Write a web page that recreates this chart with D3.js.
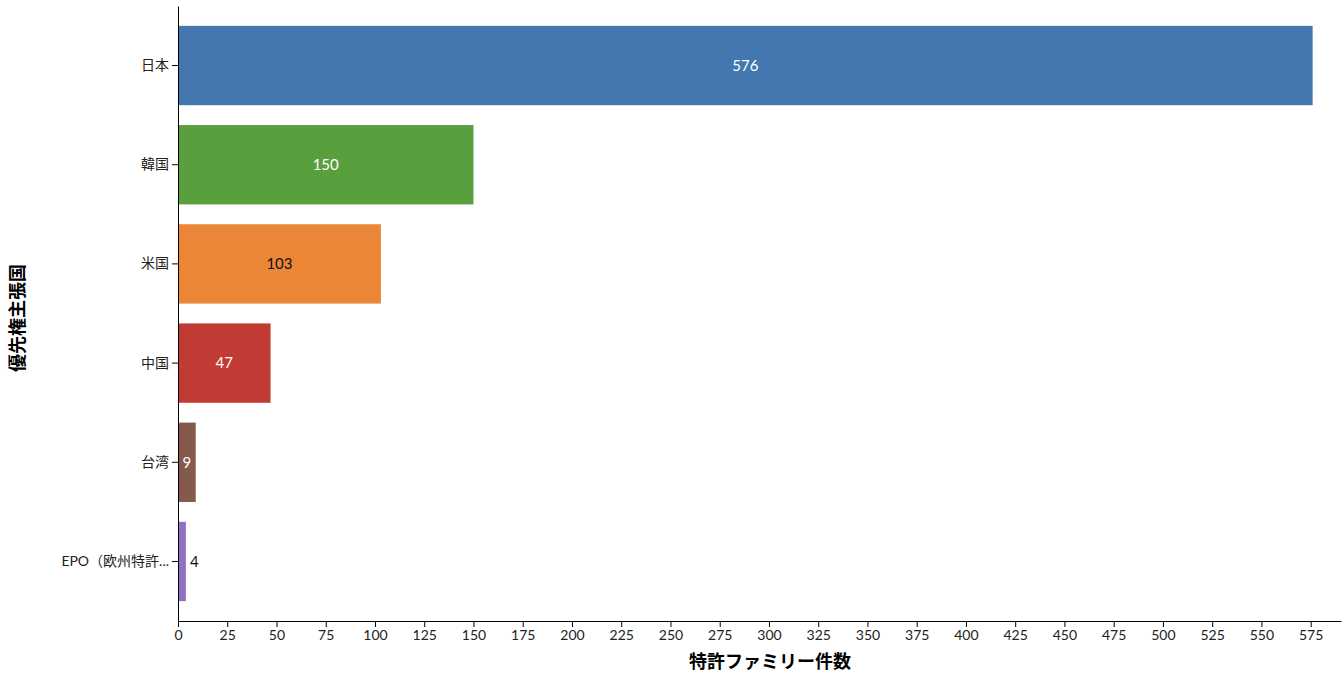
<!DOCTYPE html>
<html>
<head>
<meta charset="utf-8">
<script src="https://cdn.jsdelivr.net/npm/d3@7"></script>
<style>
  body { margin: 0; background: #fff; }
  svg { font-family: Lato, "Noto Sans CJK JP", sans-serif; }
</style>
</head>
<body>
<svg id="chart" width="1342" height="673"></svg>
<script>
var countries = ["日本", "韓国", "米国", "中国", "台湾", "EPO（欧州特許庁）"];
var counts = [576, 150, 103, 47, 9, 4];
var colors = ["#4477b0", "#5a9f3d", "#eb8636", "#c13a33", "#85594c", "#9170bf"];
var labelColors = ["#fff", "#fff", "#111", "#fff", "#fff", "#111"];

function shorten(s){
  return s.length > 9 ? s.slice(0, 8) + "..." : s;
}

function drawChart(){
  var margin = ({top: 6, right: 1, bottom: 52, left: 178});
  var width = 1342, height = 673;
  var data = countries.map((c, i) => ({country: c, value: counts[i], color: colors[i], label: labelColors[i]}));

  var x = d3.scaleLinear()
    .domain([0, d3.max(counts) * 1.025])
    .range([margin.left, width - margin.right]);

  var y = d3.scaleBand()
    .domain(countries)
    .range([margin.top, height - margin.bottom])
    .padding(0.2);

  var svg = d3.select("#chart");

  svg.append("g").selectAll("rect")
    .data(data).join("rect")
      .attr("x", x(0))
      .attr("y", d => y(d.country))
      .attr("width", d => x(d.value) - x(0))
      .attr("height", y.bandwidth())
      .attr("fill", d => d.color);

  svg.append("g").selectAll("text")
    .data(data).join("text")
      .attr("x", d => d.value < 6 ? x(d.value) + 4 : (x(0) + x(d.value)) / 2)
      .attr("y", d => y(d.country) + y.bandwidth() / 2)
      .attr("dy", "0.35em")
      .attr("text-anchor", d => d.value < 6 ? "start" : "middle")
      .attr("font-size", 15)
      .attr("fill", d => d.label)
      .text(d => d.value);

  svg.append("g")
    .attr("transform", `translate(0,${height - margin.bottom})`)
    .call(d3.axisBottom(x).tickValues(d3.range(0, 576, 25)).tickSizeOuter(0))
    .attr("font-family", null)
    .attr("font-size", 14)
    .call(g => g.select(".domain").attr("stroke", "#000"))
    .call(g => g.selectAll(".tick text").attr("fill", "#222"));

  svg.append("g")
    .attr("transform", `translate(${margin.left},0)`)
    .call(d3.axisLeft(y).tickFormat(shorten).tickSizeOuter(0))
    .attr("font-family", null)
    .attr("font-size", 14)
    .call(g => g.select(".domain").attr("stroke", "#000"))
    .call(g => g.selectAll(".tick text").attr("fill", "#222"));

  svg.append("text")
    .attr("x", 770)
    .attr("y", 668)
    .attr("text-anchor", "middle")
    .attr("font-size", 18)
    .attr("font-weight", "bold")
    .text("特許ファミリー件数");

  svg.append("text")
    .attr("transform", `translate(24,318) rotate(-90)`)
    .attr("text-anchor", "middle")
    .attr("font-size", 18)
    .attr("font-weight", "bold")
    .text("優先権主張国");
}

drawChart();
</script>
</body>
</html>
